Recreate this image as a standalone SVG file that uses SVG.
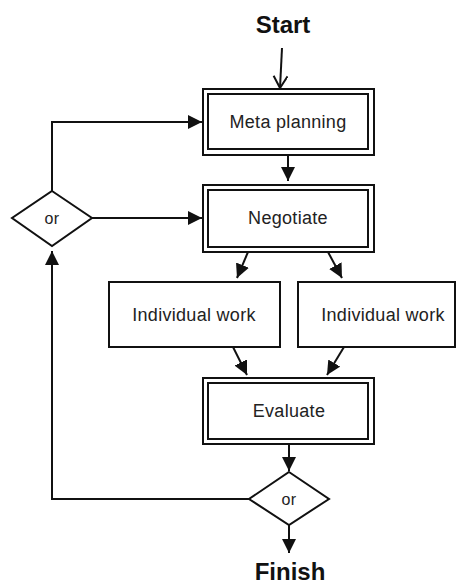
<svg xmlns="http://www.w3.org/2000/svg" width="456" height="587" viewBox="0 0 456 587">
<style>
.box{fill:#fff;stroke:#111;stroke-width:2}
.in{fill:none;stroke:#111;stroke-width:2}
.lbl{font-family:"Liberation Sans",Arial,sans-serif;font-size:18px;fill:#222;text-anchor:middle;letter-spacing:0.3px}
.ttl{font-family:"Liberation Sans",Arial,sans-serif;font-size:24px;font-weight:bold;fill:#111;text-anchor:middle}
.ln{fill:none;stroke:#111;stroke-width:2}
</style>
<defs>
<marker id="ah" markerUnits="userSpaceOnUse" markerWidth="16" markerHeight="16" refX="14" refY="7" orient="auto">
<path d="M0,0 L14,7 L0,14 Z" fill="#111"/>
</marker>
<marker id="oh" markerUnits="userSpaceOnUse" markerWidth="16" markerHeight="16" refX="13" refY="7" orient="auto">
<path d="M1,0 L13,7 L1,14" fill="none" stroke="#111" stroke-width="2"/>
</marker>
</defs>
<g id="start"><text class="ttl" x="283" y="33">Start</text></g>
<g id="finish"><text class="ttl" x="290" y="580">Finish</text></g>
<g id="meta">
<rect class="box" x="203" y="89" width="171" height="66"/>
<rect class="in" x="208" y="94" width="160" height="55"/>
<text class="lbl" x="288" y="128">Meta planning</text>
</g>
<g id="negotiate">
<rect class="box" x="203" y="185" width="171" height="67"/>
<rect class="in" x="208" y="190" width="160" height="57"/>
<text class="lbl" x="288" y="224">Negotiate</text>
</g>
<g id="work1">
<rect class="box" x="109" y="282" width="171" height="65"/>
<text class="lbl" x="194" y="321">Individual work</text>
</g>
<g id="work2">
<rect class="box" x="298" y="282" width="157" height="65"/>
<text class="lbl" x="383" y="321">Individual work</text>
</g>
<g id="evaluate">
<rect class="box" x="203" y="378" width="171" height="66"/>
<rect class="in" x="208" y="383" width="160" height="56"/>
<text class="lbl" x="289" y="417">Evaluate</text>
</g>
<g id="or1">
<path class="box" d="M52,191 L92,218 L52,246 L12,218 Z"/>
<text class="lbl" x="52" y="224" style="font-size:16px">or</text>
</g>
<g id="or2">
<path class="box" d="M289,472 L329,499 L289,525 L249,499 Z"/>
<text class="lbl" x="289" y="505" style="font-size:16px">or</text>
</g>
<g id="connectors">
<path class="ln" d="M282,48 L280,88" marker-end="url(#oh)"/>
<path class="ln" d="M52,191 L52,122 L202,122" marker-end="url(#ah)"/>
<path class="ln" d="M288,155 L288,181" marker-end="url(#ah)"/>
<path class="ln" d="M92,218 L202,218" marker-end="url(#ah)"/>
<path class="ln" d="M248,252 L237,278" marker-end="url(#ah)"/>
<path class="ln" d="M328,252 L342,278" marker-end="url(#ah)"/>
<path class="ln" d="M233,347 L247,375" marker-end="url(#ah)"/>
<path class="ln" d="M344,347 L327,375" marker-end="url(#ah)"/>
<path class="ln" d="M289,444 L289,471" marker-end="url(#ah)"/>
<path class="ln" d="M249,499 L52,499 L52,251" marker-end="url(#ah)"/>
<path class="ln" d="M289,525 L289,553" marker-end="url(#ah)"/>
</g>
</svg>
